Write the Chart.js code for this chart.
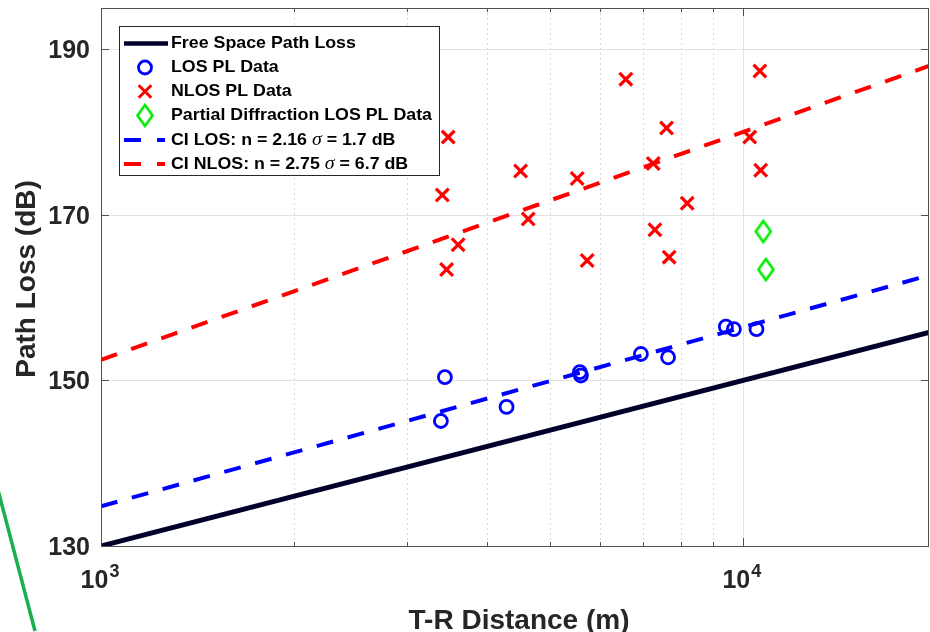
<!DOCTYPE html>
<html><head><meta charset="utf-8">
<script src="https://cdn.jsdelivr.net/npm/chart.js@4.4.1/dist/chart.umd.min.js"></script>
<style>html,body{margin:0;padding:0;background:#fff;overflow:hidden}canvas{display:block}</style>
</head><body>
<canvas id="c" width="930" height="632"></canvas>
<script>
// ---- data ----
const xRange = [1000, 19500];
const yRange = [130, 195];
const yTicks = [130, 150, 170, 190];
const xMajorTicks = [1000, 10000];
const xMinorTicks = [2000, 3000, 4000, 5000, 6000, 7000, 8000, 9000];
const xTickLabels = [['10', '3'], ['10', '4']];

const lineDist = [1000, 19500];
const fsplPL = [130.0, 155.8];
const ciLosPL = [134.8, 162.7];
const ciNlosPL = [152.5, 188.0];

const losDist = [3434, 3385, 4284, 5573, 5594, 6937, 7648, 9409, 9683, 10503];
const losPL   = [150.4, 145.1, 146.8, 151.0, 150.6, 153.2, 152.8, 156.5, 156.2, 156.2];

const nlosDist = [3475, 3402, 3601, 3455, 4505, 4630, 5520, 5721, 6572, 7606, 7251, 7295, 7677, 8190, 10630, 10250, 10660];
const nlosPL   = [179.4, 172.4, 166.4, 163.4, 175.3, 169.5, 174.4, 164.5, 186.4, 180.5, 176.2, 168.2, 164.9, 171.4, 187.4, 179.4, 175.4];

const pdDist = [10760, 10860];
const pdPL   = [168.0, 163.4];

const seriesNames = ['Free Space Path Loss', 'LOS PL Data', 'NLOS PL Data', 'Partial Diffraction LOS PL Data', 'CI LOS', 'CI NLOS'];
const ciLosParams = ['2.16', '1.7'];
const ciNlosParams = ['2.75', '6.7'];
const xTitle = 'T-R Distance (m)';
const yTitle = 'Path Loss (dB)';

// ---- helpers ----
const pts = (xs, ys) => xs.map((x, i) => ({x: x, y: ys[i]}));
const NAVY = '#00002a', BLUE = '#0000ff', RED = '#ff0000', GREEN = '#00ee00';

function diamondImg(color) {
  const c = document.createElement('canvas');
  c.width = 22; c.height = 28;
  const g = c.getContext('2d');
  g.strokeStyle = color; g.lineWidth = 2.6; g.lineJoin = 'miter';
  g.beginPath();
  g.moveTo(11, 3.5); g.lineTo(18.5, 14); g.lineTo(11, 24.5); g.lineTo(3.5, 14);
  g.closePath(); g.stroke();
  return c;
}
const dImg = diamondImg(GREEN);

const decor = {
  id: 'decor',
  beforeDatasetsDraw(chart) {
    const ctx = chart.ctx, a = chart.chartArea, xs = chart.scales.x, ys = chart.scales.y;
    ctx.save();
    ctx.lineWidth = 1;
    ctx.strokeStyle = '#d8d8d8';
    ctx.setLineDash([2, 3]);
    xMinorTicks.forEach(v => {
      const px = Math.round(xs.getPixelForValue(v)) + 0.5;
      ctx.beginPath(); ctx.moveTo(px, a.top); ctx.lineTo(px, a.bottom); ctx.stroke();
    });
    ctx.setLineDash([]);
    ctx.strokeStyle = '#e2e2e2';
    xMajorTicks.forEach(v => {
      const px = Math.round(xs.getPixelForValue(v)) + 0.5;
      ctx.beginPath(); ctx.moveTo(px, a.top); ctx.lineTo(px, a.bottom); ctx.stroke();
    });
    yTicks.forEach(v => {
      const py = Math.round(ys.getPixelForValue(v)) + 0.5;
      ctx.beginPath(); ctx.moveTo(a.left, py); ctx.lineTo(a.right, py); ctx.stroke();
    });
    ctx.restore();
  },
  afterDatasetsDraw(chart) {
    const ctx = chart.ctx, a = chart.chartArea, xs = chart.scales.x, ys = chart.scales.y;
    ctx.save();
    // frame
    ctx.strokeStyle = '#505050'; ctx.lineWidth = 1;
    ctx.strokeRect(Math.round(a.left) + 0.5, Math.round(a.top) + 0.5, Math.round(a.right - a.left) - 1, Math.round(a.bottom - a.top));
    // ticks
    ctx.beginPath();
    yTicks.forEach(v => {
      const py = Math.round(ys.getPixelForValue(v)) + 0.5;
      ctx.moveTo(a.left, py); ctx.lineTo(a.left + 8, py);
      ctx.moveTo(a.right, py); ctx.lineTo(a.right - 8, py);
    });
    xMajorTicks.forEach(v => {
      const px = Math.round(xs.getPixelForValue(v)) + 0.5;
      ctx.moveTo(px, a.bottom); ctx.lineTo(px, a.bottom - 8);
      ctx.moveTo(px, a.top); ctx.lineTo(px, a.top + 8);
    });
    xMinorTicks.forEach(v => {
      const px = Math.round(xs.getPixelForValue(v)) + 0.5;
      ctx.moveTo(px, a.bottom); ctx.lineTo(px, a.bottom - 4);
      ctx.moveTo(px, a.top); ctx.lineTo(px, a.top + 4);
    });
    ctx.stroke();

    // x tick labels (10^n)
    ctx.fillStyle = '#262626';
    ctx.textBaseline = 'alphabetic';
    xMajorTicks.forEach((v, i) => {
      const px = xs.getPixelForValue(v);
      const [base, exp] = xTickLabels[i];
      ctx.font = 'bold 25px Arial';
      const wb = ctx.measureText(base).width;
      ctx.font = 'bold 18px Arial';
      const we = ctx.measureText(exp).width;
      const x0 = px - 1 - (wb + we + 1) / 2;
      ctx.font = 'bold 25px Arial';
      ctx.textAlign = 'left';
      ctx.fillText(base, x0, 588);
      ctx.font = 'bold 18px Arial';
      ctx.fillText(exp, x0 + wb + 1, 577);
    });

    // axis titles
    ctx.font = 'bold 28px Arial';
    ctx.textAlign = 'center';
    ctx.fillText(xTitle, 519, 629);
    ctx.save();
    ctx.translate(35, 279);
    ctx.rotate(-Math.PI / 2);
    ctx.fillText(yTitle, 0, 0);
    ctx.restore();

    // legend
    const L = 119, T = 26, R = 439, B = 175;
    ctx.fillStyle = '#fff';
    ctx.fillRect(L, T, R - L, B - T);
    ctx.strokeStyle = '#262626'; ctx.lineWidth = 1;
    ctx.strokeRect(L + 0.5, T + 0.5, R - L, B - T);
    const rows = [43.5, 67.5, 91.5, 115.5, 140, 164];
    const sx0 = 124, sx1 = 168, mx = 145;
    ctx.lineCap = 'butt';
    ctx.strokeStyle = NAVY; ctx.lineWidth = 4.5;
    ctx.beginPath(); ctx.moveTo(sx0, rows[0]); ctx.lineTo(sx1, rows[0]); ctx.stroke();
    ctx.strokeStyle = BLUE; ctx.lineWidth = 2.8;
    ctx.beginPath(); ctx.arc(mx, rows[1], 6.5, 0, Math.PI * 2); ctx.stroke();
    ctx.strokeStyle = RED; ctx.lineWidth = 3;
    ctx.beginPath();
    ctx.moveTo(mx - 6.3, rows[2] - 6.3); ctx.lineTo(mx + 6.3, rows[2] + 6.3);
    ctx.moveTo(mx + 6.3, rows[2] - 6.3); ctx.lineTo(mx - 6.3, rows[2] + 6.3);
    ctx.stroke();
    ctx.drawImage(dImg, mx - 11, rows[3] - 14);
    [[BLUE, rows[4]], [RED, rows[5]]].forEach(([c, y]) => {
      ctx.strokeStyle = c; ctx.lineWidth = 4;
      ctx.beginPath(); ctx.moveTo(124, y); ctx.lineTo(141, y); ctx.moveTo(157, y); ctx.lineTo(165, y); ctx.stroke();
    });
    ctx.fillStyle = '#000';
    ctx.textAlign = 'left';
    ctx.textBaseline = 'middle';
    ctx.font = 'bold 17px Arial';
    const sx = 261 / ctx.measureText(seriesNames[3]).width;
    const tx = 171;
    function txt(parts, y) {
      ctx.save();
      ctx.translate(tx, y);
      ctx.scale(sx, 1);
      let x = 0;
      parts.forEach(([s, f]) => {
        ctx.font = f;
        ctx.fillText(s, x, 0);
        x += ctx.measureText(s).width;
      });
      ctx.restore();
    }
    const BF = 'bold 17px Arial', SF = 'italic 19px "Liberation Serif"';
    for (let i = 0; i < 4; i++) txt([[seriesNames[i], BF]], rows[i]);
    txt([[seriesNames[4] + ': n = ' + ciLosParams[0] + ' ', BF], ['σ', SF], [' = ' + ciLosParams[1] + ' dB', BF]], rows[4]);
    txt([[seriesNames[5] + ': n = ' + ciNlosParams[0] + ' ', BF], ['σ', SF], [' = ' + ciNlosParams[1] + ' dB', BF]], rows[5]);

    // green annotation stroke at the lower-left edge of the picture
    ctx.strokeStyle = '#1aaf4c'; ctx.lineWidth = 3.5; ctx.lineCap = 'butt';
    ctx.beginPath(); ctx.moveTo(-2, 490); ctx.lineTo(35, 631); ctx.stroke();
    ctx.restore();
  }
};

new Chart(document.getElementById('c'), {
  type: 'scatter',
  data: {
    datasets: [
      { label: seriesNames[0], data: pts(lineDist, fsplPL), showLine: true, borderColor: NAVY, borderWidth: 5, pointRadius: 0, fill: false, order: 6 },
      { label: seriesNames[1], data: pts(losDist, losPL), pointStyle: 'circle', pointRadius: 6.5, pointBorderWidth: 2.8, borderColor: BLUE, pointBorderColor: BLUE, backgroundColor: 'rgba(0,0,0,0)', pointBackgroundColor: 'rgba(0,0,0,0)', order: 5 },
      { label: seriesNames[2], data: pts(nlosDist, nlosPL), pointStyle: 'crossRot', pointRadius: 9, pointBorderWidth: 3.2, borderColor: RED, pointBorderColor: RED, order: 4 },
      { label: seriesNames[3], data: pts(pdDist, pdPL), pointStyle: dImg, pointRadius: 10, borderColor: GREEN, order: 3 },
      { label: seriesNames[4], data: pts(lineDist, ciLosPL), showLine: true, borderColor: BLUE, borderWidth: 4, borderDash: [17, 15], pointRadius: 0, fill: false, order: 2 },
      { label: seriesNames[5], data: pts(lineDist, ciNlosPL), showLine: true, borderColor: RED, borderWidth: 4, borderDash: [17, 15], pointRadius: 0, fill: false, order: 1 }
    ]
  },
  options: {
    responsive: false,
    animation: false,
    events: [],
    layout: { autoPadding: false, padding: { top: 8, right: 1, left: 0, bottom: 0 } },
    plugins: { legend: { display: false }, tooltip: { enabled: false }, title: { display: false } },
    scales: {
      x: {
        type: 'logarithmic', min: xRange[0], max: xRange[1],
        grid: { display: false }, border: { display: false },
        ticks: { display: false },
        afterBuildTicks: s => { s.ticks = xMajorTicks.concat(xMinorTicks).sort((p, q) => p - q).map(v => ({value: v})); },
        afterFit: s => { s.height = 86; s.paddingLeft = 0; s.paddingRight = 0; }
      },
      y: {
        type: 'linear', min: yRange[0], max: yRange[1],
        grid: { display: false, drawTicks: false }, border: { display: false },
        ticks: { color: '#262626', padding: 11, labelOffset: 2, font: { family: 'Arial', size: 25, weight: 'bold' }, callback: v => String(v) },
        afterBuildTicks: s => { s.ticks = yTicks.map(v => ({value: v})); },
        afterFit: s => { s.width = 101; s.paddingTop = 0; s.paddingBottom = 0; }
      }
    }
  },
  plugins: [decor]
});
</script>
</body></html>
